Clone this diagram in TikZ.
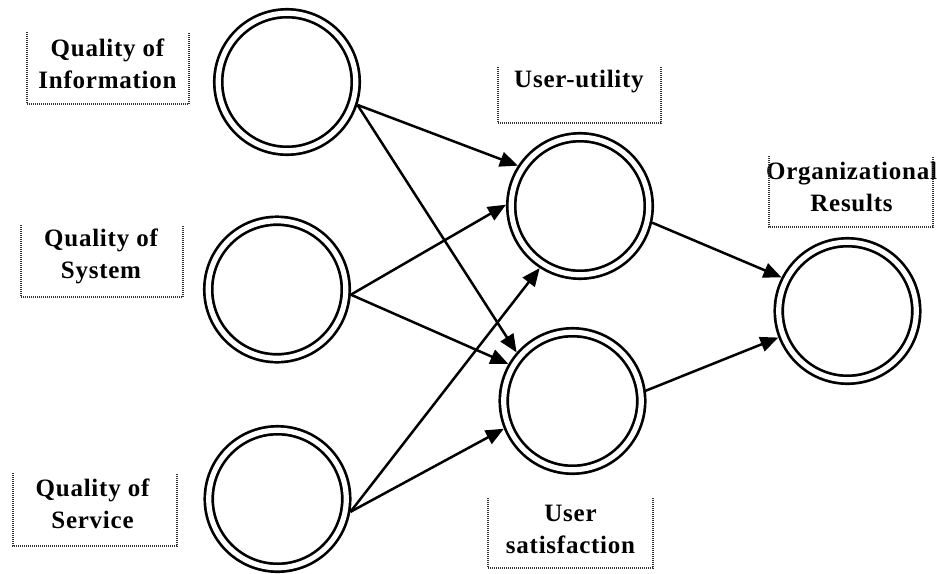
\documentclass[tikz,border=0pt]{standalone}
\usepackage{fontspec}
\setmainfont{Liberation Serif}[LetterSpace=3]
\usetikzlibrary{arrows.meta}
\begin{document}
\begin{tikzpicture}[x=1pt,y=-1pt,
  ring/.style={circle, draw, line width=2.7pt, double, double distance=5.2pt,
    minimum size=137.5pt, inner sep=0pt, outer sep=5.3pt},
  lbl/.style={align=center, font=\fontsize{25}{32}\selectfont\bfseries, inner sep=0pt},
  dotbox/.style={dash pattern=on 1pt off 1pt, line width=1.1pt, black!80},
  link/.style={line width=2.5pt, -{Triangle[length=18pt,width=15pt]}}]
\useasboundingbox (0,0) rectangle (937,573);
% circles
\node[ring] (c1) at (287,82) {};
\node[ring] (c2) at (277,289.5) {};
\node[ring] (c3) at (277.5,499) {};
\node[ring] (uu) at (580,206) {};
\node[ring] (us) at (572.5,401) {};
\node[ring] (org) at (847.5,311) {};
% labels
\node[lbl] (l1) at (107.5,64) {Quality of\\Information};
\node[lbl] (l2) at (101,256.5) {Quality of\\System};
\node[lbl] (l3) at (92.5,503.5) {Quality of\\Service};
\node[lbl] (l4) at (579,82) {User-utility};
\node[lbl] (l5) at (570.5,529) {User\\satisfaction};
\node[lbl] (l6) at (851.5,186.5) {Organizational\\Results};
% dotted boxes (left, bottom, right sides)
\draw[dotbox] (27,32) -- (27,104) -- (189,104) -- (189,32);
\draw[dotbox] (21,225) -- (21,297) -- (183,297) -- (183,225);
\draw[dotbox] (13,473) -- (13,546) -- (177,546) -- (177,473);
\draw[dotbox] (498,67) -- (498,123) -- (661,123) -- (661,67);
\draw[dotbox] (488,498) -- (488,568) -- (653,568) -- (653,498);
\draw[dotbox] (769,156) -- (769,227) -- (933,227) -- (933,156);
% connectors
\draw[link] (c1.-18.7) -- (uu.147);
\draw[link] (c1.-18.7) -- (us.139.6);
\draw[link] (c2.-4.4) -- (uu.179);
\draw[link] (c2.-4.4) -- (us.150.7);
\draw[link] (c3.-10) -- (uu.237);
\draw[link] (c3.-10) -- (us.202.6);
\draw[link] (uu.-13) -- (org.153);
\draw[link] (us.8.4) -- (org.201);
\end{tikzpicture}
\end{document}
